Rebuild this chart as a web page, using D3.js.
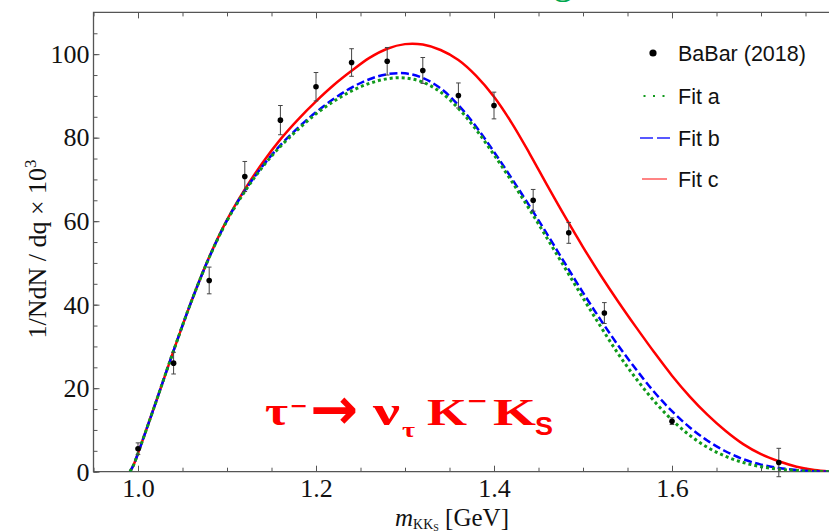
<!DOCTYPE html>
<html>
<head>
<meta charset="utf-8">
<script src="https://cdn.jsdelivr.net/npm/d3@7"></script>
<style>
  html, body { margin: 0; padding: 0; background: #fff; }
  svg { display: block; }
</style>
</head>
<body>
<div id="chart"></div>
<script>
// BaBar (2018) data points, m_KKs in GeV
const dataX = [1.00, 1.04, 1.08, 1.12, 1.16, 1.20, 1.24, 1.28, 1.32, 1.36, 1.40, 1.444, 1.484, 1.524, 1.60, 1.72];
const dataY = [5.5, 26.0, 45.8, 70.7, 84.2, 92.2, 98.0, 98.3, 96.1, 90.1, 87.7, 65.0, 57.2, 38.0, 12.1, 2.2];
const dataErr = [1.4, 2.6, 3.2, 3.6, 3.5, 3.4, 3.3, 3.3, 3.1, 3.0, 3.2, 2.6, 2.5, 2.5, 0.8, 3.4];

const curveX = [0.991, 0.995, 1.00, 1.02, 1.04, 1.06, 1.08, 1.10, 1.12, 1.14, 1.16, 1.18, 1.20, 1.22,
  1.24, 1.26, 1.28, 1.30, 1.32, 1.34, 1.36, 1.38, 1.40, 1.42, 1.44, 1.46, 1.48, 1.50, 1.52, 1.54,
  1.56, 1.58, 1.60, 1.62, 1.64, 1.66, 1.68, 1.70, 1.72, 1.74, 1.76, 1.78];
const fitA = [0, 1.6, 4.4, 16.6, 29.0, 40.8, 51.3, 60.1, 67.1, 73.0, 77.9, 82.0, 85.7, 88.7,
  91.2, 93.0, 94.1, 94.3, 93.3, 90.9, 87.0, 81.9, 75.9, 69.5, 62.8, 55.8, 48.7, 41.6, 34.7, 28.1,
  22.2, 16.9, 12.4, 8.7, 5.8, 3.7, 2.2, 1.2, 0.6, 0.3, 0.1, 0];
const fitB = [0, 1.6, 4.4, 16.6, 29.0, 40.8, 51.3, 60.2, 67.3, 73.2, 78.2, 82.4, 86.1, 89.3,
  92.0, 94.0, 95.2, 95.4, 94.3, 91.8, 87.8, 82.6, 76.6, 70.2, 63.6, 56.8, 49.8, 42.9, 36.3, 30.1,
  24.4, 19.1, 14.5, 10.6, 7.4, 4.9, 3.0, 1.7, 0.9, 0.4, 0.1, 0];
const fitC = [0, 1.6, 4.4, 16.6, 29.0, 40.8, 51.4, 60.3, 67.6, 74.0, 79.6, 84.4, 88.7, 92.6,
  96.0, 99.1, 101.3, 102.4, 102.3, 101.0, 98.6, 94.8, 89.8, 83.5, 76.2, 68.5, 61.0, 53.8, 47.0, 40.6,
  34.5, 28.6, 23.0, 18.0, 13.6, 9.8, 6.6, 4.2, 2.5, 1.2, 0.4, 0];

const xMajor = [1.0, 1.2, 1.4, 1.6];
const xMinor = d3.range(0.95, 1.76, 0.05);
const yMajor = [0, 20, 40, 60, 80, 100];
const yMinor = d3.range(0, 106, 5);

const legendItems = ["BaBar (2018)", "Fit a", "Fit b", "Fit c"];

const width = 829, height = 532;
const serif = "'Liberation Serif', 'Times New Roman', serif";
const sans = "'Liberation Sans', Arial, sans-serif";
const axisColor = "#555";

const svg = d3.select("#chart").append("svg")
  .attr("width", width)
  .attr("height", height)
  .style("background", "#fff");

const x = d3.scaleLinear().domain([0.95, 1.78]).range([93.5, 832.2]);
const y = d3.scaleLinear().domain([0, 110]).range([471.7, 12.4]);

// frame + ticks
const g = svg.append("g");

function styleAxis(sel) {
  sel.selectAll(".domain").remove();
  sel.selectAll("line").attr("stroke", axisColor).attr("stroke-width", 1);
  sel.selectAll("text").attr("fill", "#111").attr("font-family", serif).attr("font-size", 26);
}

// minor ticks
g.append("g").attr("transform", `translate(0,${y(0)})`)
  .call(d3.axisBottom(x).tickValues(xMinor).tickSize(-4).tickFormat(""))
  .call(styleAxis);
g.append("g").attr("transform", `translate(0,${y(110)})`)
  .call(d3.axisTop(x).tickValues(xMinor).tickSize(-4).tickFormat(""))
  .call(styleAxis);
g.append("g").attr("transform", `translate(${x(0.95)},0)`)
  .call(d3.axisLeft(y).tickValues(yMinor).tickSize(-4).tickFormat(""))
  .call(styleAxis);

// major ticks with labels
g.append("g").attr("transform", `translate(0,${y(0)})`)
  .call(d3.axisBottom(x).tickValues(xMajor).tickSize(-6).tickPadding(7).tickFormat(d3.format(".1f")))
  .call(styleAxis);
g.append("g").attr("transform", `translate(0,${y(110)})`)
  .call(d3.axisTop(x).tickValues(xMajor).tickSize(-6).tickFormat(""))
  .call(styleAxis);
g.append("g").attr("transform", `translate(${x(0.95)},0)`)
  .call(d3.axisLeft(y).tickValues(yMajor).tickSize(-6).tickPadding(4))
  .call(styleAxis);

// frame lines (right edge is off the picture)
g.append("path")
  .attr("d", `M${x(1.78)},${y(110)}H${x(0.95)}V${y(0)}H${x(1.78)}`)
  .attr("fill", "none")
  .attr("stroke", axisColor)
  .attr("stroke-width", 1.3);

// curves
svg.append("clipPath").attr("id", "plotclip")
  .append("rect").attr("x", x(0.95)).attr("y", y(110)).attr("width", x(1.78) - x(0.95)).attr("height", y(0) - y(110));

const line = d3.line()
  .x((d, i) => x(curveX[i]))
  .y(d => y(d))
  .curve(d3.curveCatmullRom.alpha(0.5));

const curves = svg.append("g").attr("clip-path", "url(#plotclip)");
curves.append("path").datum(fitC).attr("d", line)
  .attr("fill", "none").attr("stroke", "#ff0000").attr("stroke-width", 2.5);
curves.append("path").datum(fitB).attr("d", line)
  .attr("fill", "none").attr("stroke", "#0000ff").attr("stroke-width", 2.5)
  .attr("stroke-dasharray", "8,3.5");
curves.append("path").datum(fitA).attr("d", line)
  .attr("fill", "none").attr("stroke", "#119a1c").attr("stroke-width", 3)
  .attr("stroke-dasharray", "3,3");

// data with error bars
const pts = svg.append("g").selectAll("g")
  .data(dataX.map((d, i) => ({ m: d, v: dataY[i], e: dataErr[i] })))
  .join("g");
pts.append("line")
  .attr("x1", d => x(d.m)).attr("x2", d => x(d.m))
  .attr("y1", d => y(d.v - d.e)).attr("y2", d => y(d.v + d.e))
  .attr("stroke", "#444").attr("stroke-width", 1);
pts.selectAll(".cap").data(d => [d.v - d.e, d.v + d.e].map(v => ({ m: d.m, v })))
  .join("line").attr("class", "cap")
  .attr("x1", d => x(d.m) - 2.3).attr("x2", d => x(d.m) + 2.3)
  .attr("y1", d => y(d.v)).attr("y2", d => y(d.v))
  .attr("stroke", "#444").attr("stroke-width", 1);
pts.append("circle")
  .attr("cx", d => x(d.m)).attr("cy", d => y(d.v))
  .attr("r", 2.8).attr("fill", "#000");

// legend
const lg = svg.append("g").attr("font-family", sans).attr("font-size", 21.5).attr("fill", "#111");
const rowY = [53, 96, 138, 179];
legendItems.forEach((t, i) => {
  lg.append("text").attr("x", 678).attr("y", rowY[i]).attr("dy", "0.35em").text(t);
});
lg.append("circle").attr("cx", 653).attr("cy", rowY[0]).attr("r", 3.6).attr("fill", "#000");
lg.append("line").attr("x1", 643.5).attr("x2", 667).attr("y1", rowY[1]).attr("y2", rowY[1])
  .attr("stroke", "#119a1c").attr("stroke-width", 2).attr("stroke-dasharray", "2,7.5");
lg.append("line").attr("x1", 640).attr("x2", 670).attr("y1", rowY[2]).attr("y2", rowY[2])
  .attr("stroke", "#2222ff").attr("stroke-width", 1.5).attr("stroke-dasharray", "13,4");
lg.append("line").attr("x1", 642).attr("x2", 667).attr("y1", rowY[3]).attr("y2", rowY[3])
  .attr("stroke", "#ff3333").attr("stroke-width", 1.2);

// axis titles
const ylab = svg.append("text")
  .attr("transform", `translate(46,249) rotate(-90)`)
  .attr("text-anchor", "middle")
  .attr("font-family", serif).attr("font-size", 26).attr("fill", "#111");
ylab.append("tspan").text("1/NdN / dq \u00d7 10");
ylab.append("tspan").attr("font-size", 17).attr("dy", -10).text("3");

const xlab = svg.append("text")
  .attr("x", 395).attr("y", 526)
  .attr("font-family", serif).attr("font-size", 25).attr("fill", "#111");
xlab.append("tspan").attr("font-style", "italic").text("m");
xlab.append("tspan").attr("font-size", 14).attr("dy", 3).text("KK");
xlab.append("tspan").attr("font-size", 10).attr("dy", 2).text("S");
xlab.append("tspan").attr("dy", -5).text(" [GeV]");

// decay label, widths matched to the picture
const red = "#ff0000";
const decay = svg.append("g").attr("fill", red).attr("font-weight", "bold");
const bits = [
  { t: "\u03c4", x: 265, y: 425, s: 40, w: 23, f: serif },
  { t: "\u2212", x: 290, y: 417, s: 32, w: 17, f: serif },
  { t: "\u2192", x: 310, y: 429, s: 58, w: 48, f: "'DejaVu Sans', sans-serif" },
  { t: "\u03bd", x: 373, y: 425, s: 40, w: 27, f: serif },
  { t: "\u03c4", x: 402, y: 437, s: 22, w: 13, f: serif },
  { t: "K", x: 427, y: 425, s: 38, w: 40, f: serif },
  { t: "\u2212", x: 467, y: 412, s: 32, w: 20, f: serif },
  { t: "K", x: 493, y: 425, s: 38, w: 43, f: serif },
  { t: "S", x: 535, y: 435, s: 25, w: 18, f: sans }
];
bits.forEach(b => {
  decay.append("text").attr("x", b.x).attr("y", b.y)
    .attr("font-size", b.s).attr("font-family", b.f)
    .attr("textLength", b.w).attr("lengthAdjust", "spacingAndGlyphs")
    .text(b.t);
});

// bit of green title poking in from above the crop
svg.append("text").attr("x", 553).attr("y", -7)
  .attr("font-family", serif).attr("font-size", 40).attr("fill", "#00a84f").text("g");
</script>
</body>
</html>
